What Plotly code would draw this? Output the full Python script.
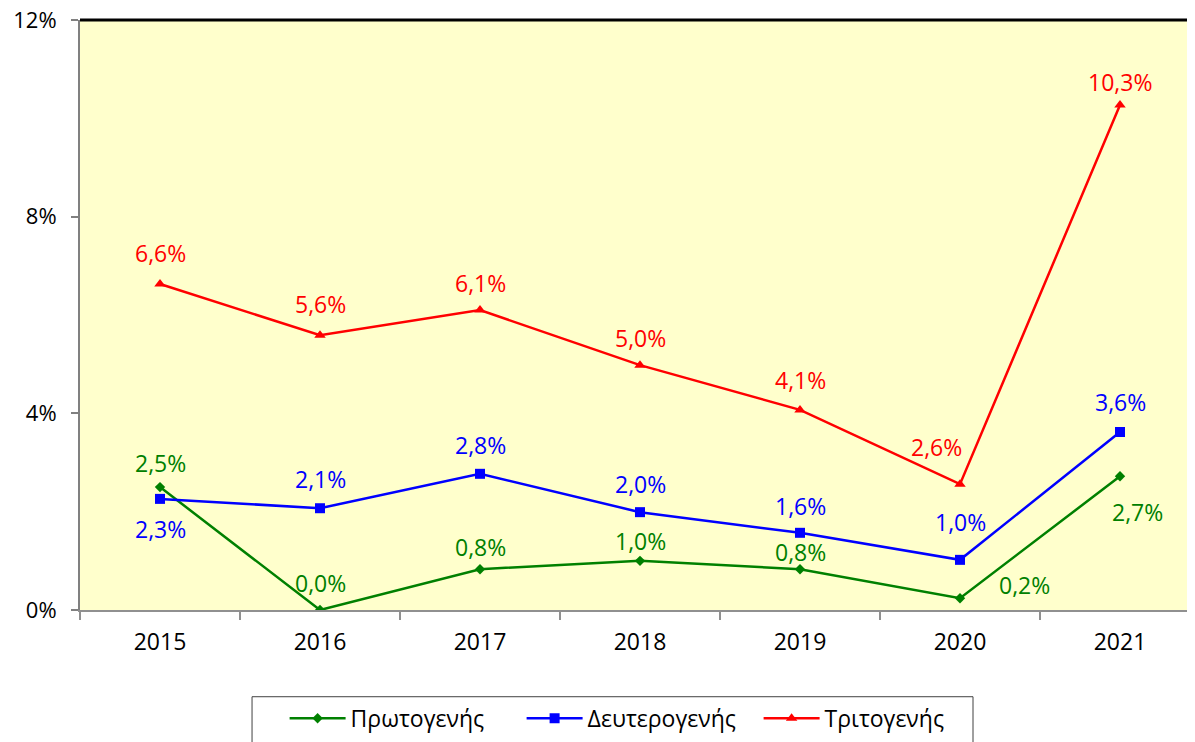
import plotly.graph_objects as go

years = ["2015", "2016", "2017", "2018", "2019", "2020", "2021"]
primary = [2.50, 0.00, 0.83, 1.00, 0.83, 0.24, 2.72]
secondary = [2.26, 2.07, 2.77, 1.99, 1.57, 1.02, 3.62]
tertiary = [6.63, 5.59, 6.10, 4.98, 4.07, 2.56, 10.27]
series_names = ["Πρωτογενής", "Δευτερογενής", "Τριτογενής"]
y_ticks = [0, 4, 8, 12]
y_tick_labels = ["0%", "4%", "8%", "12%"]

# label offsets (px) relative to each point: (xshift, yshift)
primary_off = [(0, 24), (0, 27), (0, 22), (0, 20), (0, 17), (64, 13), (17, -36)]
secondary_off = [(0, -30), (0, 29), (0, 29), (0, 28), (0, 27), (0, 38), (0, 30)]
tertiary_off = [(0, 31), (0, 31), (0, 27), (0, 27), (0, 30), (-24, 37), (0, 23)]

FONT = "Open Sans"
colors = ["#008000", "#0000FF", "#FF0000"]
symbols = ["diamond", "square", "triangle-up"]
msizes = [8, 10, 10]

fig = go.Figure()
annotations = []
for name, vals, offs, col, sym, ms in zip(
    series_names, [primary, secondary, tertiary],
    [primary_off, secondary_off, tertiary_off], colors, symbols, msizes):
    fig.add_trace(go.Scatter(
        x=years, y=vals, name=name, mode="lines+markers",
        line=dict(color=col, width=2.5),
        marker=dict(symbol=sym, size=ms, color=col),
    ))
    for i, (v, (dx, dy)) in enumerate(zip(vals, offs)):
        annotations.append(dict(
            x=i, y=v, xref="x", yref="y", showarrow=False,
            text=f"{v:.1f}".replace(".", ",") + "%",
            xshift=dx, yshift=dy,
            font=dict(family=FONT, size=23, color=col),
        ))

fig.update_layout(
    width=1187, height=734,
    margin=dict(l=72, r=0, t=12, b=132, autoexpand=False),
    paper_bgcolor="white",
    plot_bgcolor="#FFFFCC",
    font=dict(family=FONT, size=23, color="black"),
    showlegend=True,
    legend=dict(
        orientation="h", x=0.1835, xanchor="left", y=-0.147, yanchor="top",
        borderwidth=0, bgcolor="rgba(0,0,0,0)",
        font=dict(family=FONT, size=23, color="black"),
        itemwidth=56, tracegroupgap=0,
        entrywidth=166, entrywidthmode="pixels",
    ),
    annotations=annotations,
    shapes=[
        dict(type="line", xref="paper", yref="paper", x0=0, x1=1, y0=1, y1=1,
             line=dict(color="black", width=3)),
        dict(type="rect", xref="paper", yref="paper", x0=0.1543, x1=0.8009,
             y0=-0.147, y1=-0.26, line=dict(color="#404040", width=1),
             fillcolor="rgba(0,0,0,0)"),
    ],
)
fig.update_xaxes(
    type="category", range=[-0.5, 6.46875], automargin=False,
    showgrid=False, showline=True, linecolor="#909090", linewidth=2,
    ticks="outside", tickson="boundaries", ticklen=8, tickcolor="#909090", tickwidth=2,
    tickfont=dict(family=FONT, size=23), ticklabelstandoff=10,
    zeroline=False,
)
fig.update_yaxes(
    range=[0, 12], tickvals=y_ticks, ticktext=y_tick_labels, automargin=False,
    showgrid=False, showline=True, linecolor="#808080", linewidth=2,
    ticks="outside", ticklen=7, tickcolor="#808080", tickwidth=2,
    tickfont=dict(family=FONT, size=22), ticklabelstandoff=10,
    ticklabeloverflow="allow", zeroline=False,
)

fig.write_html("out.html")
